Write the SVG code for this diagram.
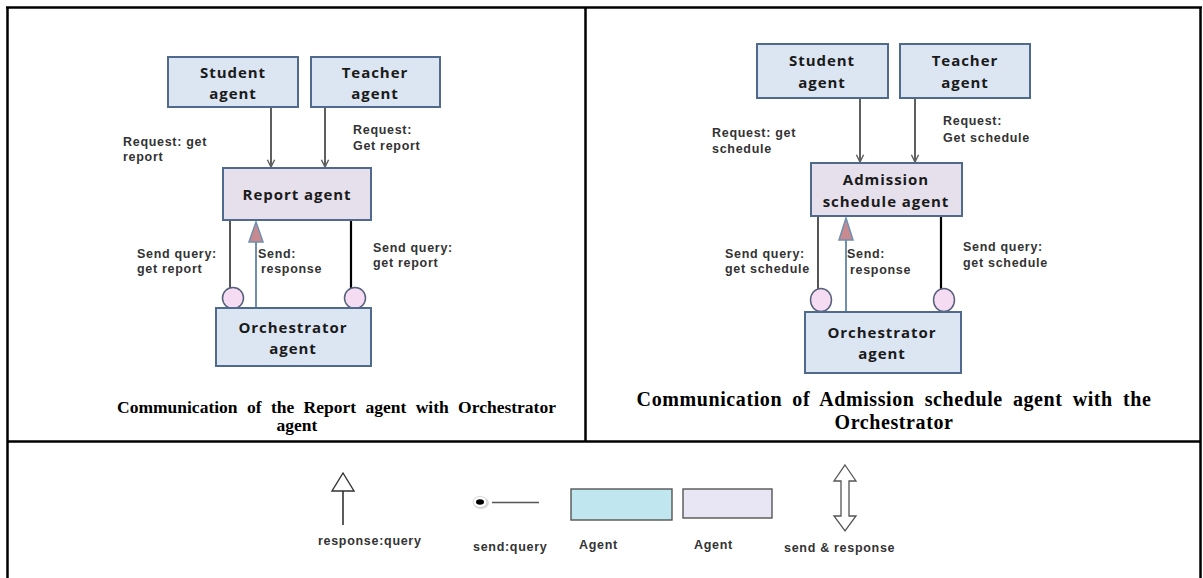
<svg xmlns="http://www.w3.org/2000/svg" width="1203" height="578" viewBox="0 0 1203 578">
<defs>
<style>
.frame{stroke:#000;stroke-width:2.5;fill:none}
.blue{fill:#dce6f2;stroke:#4f6a8d;stroke-width:2}
.lav{fill:#e6e0ec;stroke:#4f6a8d;stroke-width:2}
.nt{font-family:"Open Sans","DejaVu Sans",sans-serif;font-weight:bold;font-size:15px;fill:#1a1a1a;text-anchor:middle;letter-spacing:0.95px}
.lb{font-family:"Liberation Sans",Arial,sans-serif;font-weight:bold;font-size:12.5px;fill:#333;letter-spacing:0.7px}
.cap{font-family:"Liberation Serif","Times New Roman",serif;font-weight:bold;font-size:17.5px;fill:#000}
.capr{font-family:"Liberation Serif","Times New Roman",serif;font-weight:bold;font-size:20px;fill:#000;text-anchor:middle;letter-spacing:0.6px}
.req{stroke:#5f5f5f;stroke-width:2;fill:none}
.grayl{stroke:#555;stroke-width:2;fill:none}
.blackl{stroke:#000;stroke-width:2.2;fill:none}
.resp{stroke:#6f8fae;stroke-width:2;fill:none}
.tri{fill:#c98a8f;stroke:#6f8fae;stroke-width:1.5}
.circ{fill:#f6dcf3;stroke:#56607a;stroke-width:1.5}
</style>
<marker id="vhead" viewBox="0 0 10 10" refX="9" refY="5" markerWidth="9" markerHeight="10" markerUnits="userSpaceOnUse" orient="auto">
<path d="M1,1 L9,5 L1,9" fill="none" stroke="#5f5f5f" stroke-width="1.6"/>
</marker>
</defs>
<rect width="1203" height="578" fill="#fff"/>
<g id="table">
<line class="frame" x1="6" y1="7.5" x2="1202" y2="7.5"/>
<line class="frame" x1="7.5" y1="7" x2="7.5" y2="578"/>
<line class="frame" x1="1200.5" y1="7" x2="1200.5" y2="578"/>
<line class="frame" x1="585.5" y1="7" x2="585.5" y2="441"/>
<line class="frame" x1="7" y1="441.5" x2="1201" y2="441.5"/>
</g>
<g id="connectors">
<line class="req" x1="271" y1="107" x2="271" y2="167" marker-end="url(#vhead)"/>
<line class="req" x1="325" y1="107" x2="325" y2="167" marker-end="url(#vhead)"/>
<line class="grayl" x1="230" y1="220" x2="230" y2="288"/>
<line class="blackl" x1="351" y1="220" x2="351" y2="288"/>
<line class="resp" x1="256" y1="242" x2="256" y2="308"/>
<polygon class="tri" points="256,222 263,242 249,242"/>
<line class="req" x1="860" y1="98" x2="860" y2="162" marker-end="url(#vhead)"/>
<line class="req" x1="915" y1="98" x2="915" y2="162" marker-end="url(#vhead)"/>
<line class="grayl" x1="818" y1="216" x2="818" y2="289"/>
<line class="blackl" x1="941" y1="216" x2="941" y2="289"/>
<line class="resp" x1="846" y1="240" x2="846" y2="312"/>
<polygon class="tri" points="846,218 853,240 839,240"/>
</g>
<g id="left-labels">
<text class="lb" x="123" y="146">Request: get</text>
<text class="lb" x="123" y="161">report</text>
<text class="lb" x="353" y="134">Request:</text>
<text class="lb" x="353" y="150">Get report</text>
<text class="lb" x="137" y="258">Send query:</text>
<text class="lb" x="137" y="273">get report</text>
<text class="lb" x="258" y="258">Send:</text>
<text class="lb" x="261" y="273">response</text>
<text class="lb" x="373" y="252">Send query:</text>
<text class="lb" x="373" y="267">get report</text>
</g>
<g id="right-labels">
<text class="lb" x="712" y="137">Request: get</text>
<text class="lb" x="712" y="153">schedule</text>
<text class="lb" x="943" y="125">Request:</text>
<text class="lb" x="943" y="142">Get schedule</text>
<text class="lb" x="725" y="258">Send query:</text>
<text class="lb" x="725" y="273">get schedule</text>
<text class="lb" x="847" y="258">Send:</text>
<text class="lb" x="850" y="274">response</text>
<text class="lb" x="963" y="251">Send query:</text>
<text class="lb" x="963" y="267">get schedule</text>
</g>
<g id="student-left">
<rect class="blue" x="168" y="57" width="130" height="50"/>
<text class="nt" x="233" y="78">Student</text>
<text class="nt" x="233" y="99">agent</text>
</g>
<g id="teacher-left">
<rect class="blue" x="311" y="57" width="129" height="50"/>
<text class="nt" x="375" y="78">Teacher</text>
<text class="nt" x="375" y="99">agent</text>
</g>
<g id="report-agent">
<rect class="lav" x="223" y="168" width="148" height="52"/>
<text class="nt" x="297" y="200">Report agent</text>
</g>
<g id="orchestrator-left">
<ellipse class="circ" cx="233" cy="298" rx="10.5" ry="10.5"/>
<ellipse class="circ" cx="355" cy="298" rx="10.5" ry="10.5"/>
<rect class="blue" x="216" y="308" width="155" height="58"/>
<text class="nt" x="293" y="333">Orchestrator</text>
<text class="nt" x="293" y="354">agent</text>
</g>
<g id="student-right">
<rect class="blue" x="757" y="44" width="131" height="54"/>
<text class="nt" x="822" y="66">Student</text>
<text class="nt" x="822" y="88">agent</text>
</g>
<g id="teacher-right">
<rect class="blue" x="900" y="44" width="130" height="54"/>
<text class="nt" x="965" y="66">Teacher</text>
<text class="nt" x="965" y="88">agent</text>
</g>
<g id="admission-agent">
<rect class="lav" x="811" y="163" width="151" height="53"/>
<text class="nt" x="886" y="185">Admission</text>
<text class="nt" x="886" y="207">schedule agent</text>
</g>
<g id="orchestrator-right">
<ellipse class="circ" cx="821" cy="300" rx="10.5" ry="11.5"/>
<ellipse class="circ" cx="944" cy="300" rx="10.5" ry="11.5"/>
<rect class="blue" x="805" y="312" width="156" height="61"/>
<text class="nt" x="882" y="338">Orchestrator</text>
<text class="nt" x="882" y="359">agent</text>
</g>
<g id="captions">
<text class="cap" x="117" y="413" word-spacing="5">Communication of the Report agent with Orchestrator</text>
<text class="cap" x="297" y="431" text-anchor="middle">agent</text>
<text class="capr" x="894" y="406" word-spacing="4.5">Communication of Admission schedule agent with the</text>
<text class="capr" x="894" y="429">Orchestrator</text>
</g>
<g id="legend">
<line x1="343" y1="491" x2="343" y2="525" stroke="#333" stroke-width="1.6"/>
<polygon points="343,473 354,491 332,491" fill="#fff" stroke="#333" stroke-width="1.4"/>
<text class="lb" x="318" y="545">response:query</text>
<ellipse cx="481" cy="503" rx="8" ry="6" fill="#d8d8d8"/>
<ellipse cx="480" cy="502" rx="7" ry="5.5" fill="#fff" stroke="#ccc" stroke-width="0.8"/>
<ellipse cx="480" cy="502" rx="4" ry="2.8" fill="#000"/>
<line x1="492" y1="502.5" x2="539" y2="502.5" stroke="#555" stroke-width="1.4"/>
<text class="lb" x="473" y="551">send:query</text>
<rect x="571" y="489" width="101" height="31" fill="#c0e6ef" stroke="#555" stroke-width="1.4"/>
<text class="lb" x="579" y="549">Agent</text>
<rect x="683" y="489" width="89" height="29" fill="#e8e6f4" stroke="#555" stroke-width="1.4"/>
<text class="lb" x="694" y="549">Agent</text>
<polygon points="845,465 856,481 849,481 849,516 856,516 845,531 834,516 841,516 841,481 834,481" fill="#fff" stroke="#555" stroke-width="1.3"/>
<text class="lb" x="784" y="552">send &amp; response</text>
</g>
</svg>
